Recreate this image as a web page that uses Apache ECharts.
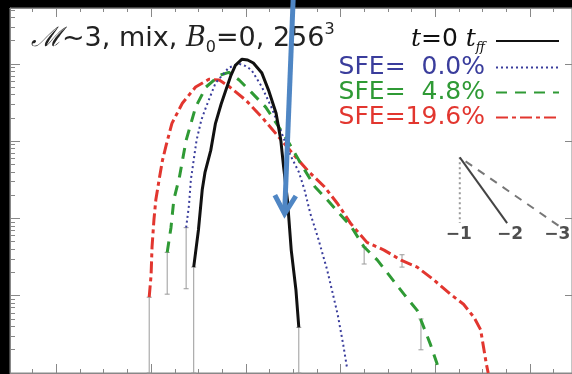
<!DOCTYPE html>
<html>
<head>
<meta charset="utf-8">
<script src="https://cdn.jsdelivr.net/npm/echarts@6/dist/echarts.min.js"></script>
<style>
  html, body { margin: 0; padding: 0; background: #000; }
  #chart { width: 572px; height: 374px; }
</style>
</head>
<body>
<div id="chart"></div>
<script>
// Density PDFs: x = log10(rho/rho0), y = log10(PDF)
const tffX  = [-0.55,-0.50,-0.46,-0.43,-0.37,-0.32,-0.26,-0.21,-0.16,-0.11,-0.04,0.02,0.08,0.17,0.24,0.32,0.37,0.40,0.44,0.48,0.53,0.56];
const tffY  = [-3.63,-3.15,-2.63,-2.40,-2.12,-1.77,-1.52,-1.34,-1.16,-1.02,-0.94,-0.95,-0.99,-1.12,-1.34,-1.64,-1.99,-2.34,-2.76,-3.41,-3.93,-4.41];

const sfe0X = [-0.63,-0.60,-0.58,-0.52,-0.47,-0.42,-0.32,-0.18,-0.07,0.00,0.06,0.17,0.27,0.38,0.47,0.56,0.62,0.68,0.76,0.86,0.97,1.03,1.07];
const sfe0Y = [-3.12,-2.83,-2.50,-1.99,-1.73,-1.56,-1.25,-1.05,-1.00,-1.03,-1.08,-1.30,-1.56,-1.90,-2.18,-2.40,-2.63,-2.93,-3.24,-3.67,-4.24,-4.64,-4.94];

const sfe5X = [-0.83,-0.79,-0.76,-0.70,-0.63,-0.53,-0.42,-0.28,-0.18,-0.07,0.06,0.21,0.35,0.45,0.59,0.73,0.86,0.99,1.11,1.25,1.39,1.53,1.67,1.81,1.88,1.95,2.02,2.04];
const sfe5Y = [-3.44,-3.12,-2.76,-2.46,-1.99,-1.56,-1.30,-1.15,-1.11,-1.21,-1.37,-1.56,-1.82,-2.01,-2.31,-2.59,-2.76,-2.94,-3.10,-3.37,-3.54,-3.76,-3.98,-4.19,-4.41,-4.63,-4.88,-4.99];

const sfe20X = [-1.02,-1.00,-0.99,-0.97,-0.95,-0.91,-0.88,-0.84,-0.78,-0.67,-0.53,-0.39,-0.28,-0.18,0.00,0.17,0.35,0.53,0.66,0.83,0.97,1.11,1.28,1.46,1.64,1.81,1.99,2.16,2.30,2.41,2.48,2.51,2.54,2.56];
const sfe20Y = [-4.02,-3.73,-3.37,-3.02,-2.76,-2.46,-2.25,-2.05,-1.77,-1.51,-1.30,-1.20,-1.21,-1.29,-1.47,-1.69,-1.95,-2.21,-2.39,-2.59,-2.81,-3.07,-3.31,-3.41,-3.54,-3.63,-3.80,-3.98,-4.11,-4.28,-4.44,-4.66,-4.88,-5.00];

// Error bars: position, lower and upper end (log10 PDF)
const errX  = [-1.02,-0.83,-0.63,-0.55,0.56,1.25,1.65,1.85];
const errLo = [-5.00,-3.98,-3.91,-5.00,-5.00,-3.59,-3.63,-4.70];
const errHi = [-4.02,-3.44,-3.12,-3.63,-4.41,-3.37,-3.47,-4.30];

// Reference slopes (inset)
const slopeApex = [2.26, -2.21];
const slopeEndX = [2.26, 2.76, 3.31];
const slopeEndY = [-3.06, -3.06, -3.10];
const slopeLabels = ['\u22121', '\u22122', '\u22123'];
const slopeLabelX = [2.25, 2.79, 3.29];
const slopeLabelY = -3.21;

// Series names / legend entries
const seriesNames = ['t=0 tff', 'SFE=  0.0%', 'SFE=  4.8%', 'SFE=19.6%'];

// Annotation arrow (data coordinates)
const arrowFrom = [0.50, -0.17];
const arrowTo = [0.41, -2.94];

// Axis extents and tick positions
const xMin = -2.49, xMax = 3.445;
const yMin = -5, yMax = -0.278;
const xMajor = [-2, -1, 0, 1, 2, 3];
const xMinor = [];
for (let v = -2.25; v < xMax; v += 0.25) {
  if (Math.abs(v - Math.round(v)) > 1e-6) xMinor.push(+v.toFixed(2));
}
const yMajor = [-5, -4, -3, -2, -1];
const yMinor = [];
for (let n = -5; n <= -1; n++) {
  for (let k = 2; k <= 9; k++) {
    const v = n + Math.log10(k);
    if (v < yMax) yMinor.push(v);
  }
}

const zip = (xs, ys) => xs.map((x, i) => [x, ys[i]]);

const frame = '#888';
function tickAxis(kind, pos, ticks, len, showLine) {
  return {
    type: 'value',
    position: pos,
    min: kind === 'x' ? xMin : yMin,
    max: kind === 'x' ? xMax : yMax,
    axisLine: { show: showLine, onZero: false, lineStyle: { color: frame, width: 1 } },
    axisTick: { show: true, inside: true, length: len, customValues: ticks, lineStyle: { color: frame, width: 1 } },
    axisLabel: { show: false },
    splitLine: { show: false }
  };
}

const chart = echarts.init(document.getElementById('chart'), null, { renderer: 'canvas' });

const colors = { tff: '#111111', sfe0: '#3a3d9c', sfe5: '#2f9a35', sfe20: '#e2362f' };

const option = {
  animation: false,
  backgroundColor: '#000',
  textStyle: { fontFamily: 'DejaVu Sans' },
  grid: {
    left: 10, top: 8, right: -3, bottom: 1,
    show: true, backgroundColor: '#fff', borderColor: frame, borderWidth: 1
  },
  title: {
    text: '{m|\u2133}~3, mix, {i|B}{s|0}=0, 256{p|3}',
    left: 26, top: 16,
    textStyle: {
      fontFamily: 'DejaVu Sans', fontSize: 27, fontWeight: 'normal', color: '#222',
      rich: {
        m: { fontFamily: 'DejaVu Serif', fontStyle: 'italic', fontSize: 27, color: '#222' },
        i: { fontFamily: 'DejaVu Serif', fontStyle: 'italic', fontSize: 27, color: '#222' },
        s: { fontSize: 16, color: '#222', padding: [19, 0, 0, 0] },
        p: { fontSize: 16, color: '#222', padding: [0, 0, 17, 0] }
      }
    }
  },
  legend: {
    orient: 'vertical',
    align: 'right',
    right: 7, top: 22,
    itemWidth: 63, itemHeight: 18, itemGap: 0,
    itemStyle: { opacity: 0 },
    selectedMode: false,
    textStyle: {
      fontFamily: 'DejaVu Sans', fontSize: 25, lineHeight: 21, padding: [0, 6, 0, 0],
      rich: {
        i: { fontFamily: 'DejaVu Serif', fontStyle: 'italic', fontSize: 25, lineHeight: 21, color: '#111', padding: [0, 0, 3, 0] },
        e: { fontSize: 25, lineHeight: 21, color: '#111', padding: [0, 0, 3, 0] },
        f: { fontFamily: 'DejaVu Serif', fontStyle: 'italic', fontSize: 13, lineHeight: 13, color: '#111', padding: [14, 0, 0, 0] }
      }
    },
    formatter: name => name === seriesNames[0] ? '{i|t}{e|=0 }{i|t}{f|ff}' : name,
    data: [
      { name: seriesNames[0], textStyle: { color: colors.tff } },
      { name: seriesNames[1], textStyle: { color: colors.sfe0 } },
      { name: seriesNames[2], textStyle: { color: colors.sfe5 } },
      { name: seriesNames[3], textStyle: { color: colors.sfe20 } }
    ]
  },
  xAxis: [
    tickAxis('x', 'bottom', xMajor, 9, true),
    tickAxis('x', 'bottom', xMinor, 4, false),
    tickAxis('x', 'top', xMajor, 9, true),
    tickAxis('x', 'top', xMinor, 4, false)
  ],
  yAxis: [
    tickAxis('y', 'left', yMajor, 10, true),
    tickAxis('y', 'left', yMinor, 5, false),
    tickAxis('y', 'right', yMajor, 7, true)
  ],
  series: [
    {
      name: 'errors', type: 'custom', z: 1, silent: true,
      data: errX.map((x, i) => [x, errLo[i], errHi[i]]),
      renderItem: (params, api) => {
        const a = api.coord([api.value(0), api.value(1)]);
        const b = api.coord([api.value(0), api.value(2)]);
        const st = { stroke: '#9a9a9a', lineWidth: 1 };
        return {
          type: 'group',
          children: [
            { type: 'line', shape: { x1: a[0], y1: a[1], x2: b[0], y2: b[1] }, style: st },
            { type: 'line', shape: { x1: a[0] - 2.5, y1: a[1], x2: a[0] + 2.5, y2: a[1] }, style: st },
            { type: 'line', shape: { x1: b[0] - 2.5, y1: b[1], x2: b[0] + 2.5, y2: b[1] }, style: st }
          ]
        };
      }
    },
    {
      name: seriesNames[3], type: 'line', data: zip(sfe20X, sfe20Y), symbol: 'none', z: 3,
      color: colors.sfe20,
      lineStyle: { color: colors.sfe20, width: 3, type: [12, 4, 4, 4] }
    },
    {
      name: seriesNames[2], type: 'line', data: zip(sfe5X, sfe5Y), symbol: 'none', z: 4,
      color: colors.sfe5,
      lineStyle: { color: colors.sfe5, width: 3, type: [11, 8] }
    },
    {
      name: seriesNames[1], type: 'line', data: zip(sfe0X, sfe0Y), symbol: 'none', z: 5,
      color: colors.sfe0,
      lineStyle: { color: colors.sfe0, width: 2, type: [2, 3] }
    },
    {
      name: seriesNames[0], type: 'line', data: zip(tffX, tffY), symbol: 'none', z: 6,
      color: colors.tff,
      lineStyle: { color: colors.tff, width: 3, type: 'solid' }
    },
    // inset reference slopes
    {
      name: 'slope1', type: 'line', symbol: 'none', silent: true, z: 2,
      data: [slopeApex, [slopeEndX[0], slopeEndY[0]]],
      lineStyle: { color: '#999', width: 2, type: [2, 3] }
    },
    {
      name: 'slope2', type: 'line', symbol: 'none', silent: true, z: 2,
      data: [slopeApex, [slopeEndX[1], slopeEndY[1]]],
      lineStyle: { color: '#444', width: 2, type: 'solid' }
    },
    {
      name: 'slope3', type: 'line', symbol: 'none', silent: true, z: 2,
      data: [slopeApex, [slopeEndX[2], slopeEndY[2]]],
      lineStyle: { color: '#777', width: 2, type: [8, 7], dashOffset: 8 }
    },
    {
      name: 'slopeLabels', type: 'scatter', symbolSize: 0, silent: true, z: 2,
      data: slopeLabelX.map((x, i) => [x, slopeLabelY, slopeLabels[i]]),
      label: {
        show: true, position: 'inside', formatter: p => p.data[2],
        fontFamily: 'DejaVu Sans', fontSize: 17, fontWeight: 'bold', color: '#222'
      }
    }
  ]
};

chart.setOption(option);

// Annotation arrow drawn on top, placed through the grid's coordinate system
const p0 = chart.convertToPixel({ gridIndex: 0 }, arrowFrom);
const p1 = chart.convertToPixel({ gridIndex: 0 }, arrowTo);
const dx = p1[0] - p0[0], dy = p1[1] - p0[1];
const L = Math.hypot(dx, dy);
const ux = dx / L, uy = dy / L;
const headLen = 21, ang = 30 * Math.PI / 180;
function rot(x, y, a) { return [x * Math.cos(a) - y * Math.sin(a), x * Math.sin(a) + y * Math.cos(a)]; }
const w1 = rot(-ux * headLen, -uy * headLen, ang);
const w2 = rot(-ux * headLen, -uy * headLen, -ang);
const arrowColor = '#4f86c4';
chart.setOption({
  graphic: [
    { type: 'polyline', z: 100, shape: { points: [p0, p1] }, style: { stroke: arrowColor, lineWidth: 5, fill: null } },
    {
      type: 'polyline', z: 100,
      shape: { points: [[p1[0] + w1[0], p1[1] + w1[1]], p1, [p1[0] + w2[0], p1[1] + w2[1]]] },
      style: { stroke: arrowColor, lineWidth: 5, fill: null, lineJoin: 'miter' }
    }
  ]
});
</script>
</body>
</html>
